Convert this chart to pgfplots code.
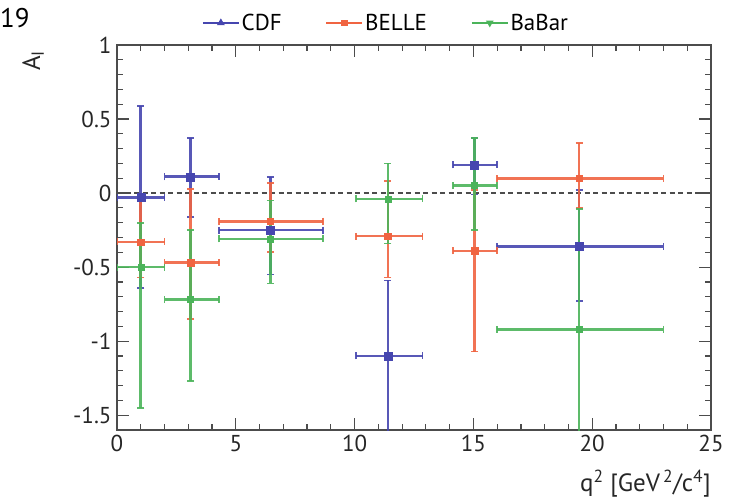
\documentclass[border=0pt]{standalone}
\usepackage{fontspec}
\setmainfont{PT Sans}
\usepackage{pgfplots}
\usepackage{pgfplotstable}
\pgfplotsset{compat=1.18}

\definecolor{cdf}{RGB}{70,70,175}
\definecolor{belle}{RGB}{240,100,65}
\definecolor{babar}{RGB}{75,180,90}

\pgfplotstableread{
x y xm xp ym yp
1.0 -0.03 1.0 1.0 0.61 0.62
3.1 0.11 1.1 1.2 0.27 0.26
6.45 -0.25 2.15 2.23 0.30 0.36
11.4 -1.10 1.35 1.46 0.80 0.51
15.05 0.19 0.9 0.95 0.20 0.18
19.45 -0.36 3.45 3.55 0.37 0.38
}\cdftab

\pgfplotstableread{
x y xm xp ym yp
1.0 -0.33 1.0 1.0 0.24 0.32
3.1 -0.47 1.1 1.2 0.38 0.50
6.45 -0.19 2.15 2.23 0.21 0.26
11.4 -0.29 1.35 1.46 0.28 0.37
15.05 -0.39 0.9 0.95 0.68 0.41
19.45 0.10 3.45 3.55 0.20 0.24
}\belletab

\pgfplotstableread{
x y xm xp ym yp
1.0 -0.50 1.0 1.0 0.95 0.30
3.1 -0.72 1.1 1.2 0.55 0.47
6.45 -0.31 2.15 2.23 0.30 0.26
11.4 -0.04 1.35 1.46 0.30 0.24
15.05 0.05 0.9 0.95 0.30 0.32
19.45 -0.92 3.45 3.55 0.90 0.81
}\babartab

\pgfplotsset{
  myerr/.style={error bars/.cd, x dir=both, x explicit, y dir=both, y explicit,
    error bar style={line width=2.6pt, opacity=0.9},
    error mark options={rotate=90, line width=1.8pt, mark size=3.5pt, opacity=0.9}},
}

\begin{document}
\begin{tikzpicture}
\useasboundingbox (-117pt,-73pt) rectangle (618pt,430pt);
\begin{axis}[
  name=ax,
  scale only axis, width=594pt, height=385pt,
  at={(0,0)}, anchor=south west,
  xmin=0, xmax=25, ymin=-1.6, ymax=1,
  xtick={0,5,...,25}, ytick={-1.5,-1,-0.5,0,0.5,1},
  minor x tick num=4, minor y tick num=4,
  tick align=inside, major tick length=12pt, minor tick length=6pt,
  axis line style={line width=1.4pt, black!70},
  every tick/.style={line width=1.2pt, black!70},
  tick label style={font=\fontsize{23}{26}\selectfont, text=black!85},
  xticklabel style={yshift=-2pt},
  yticklabel style={xshift=-2pt},
  /pgf/number format/assume math mode=true,
  legend style={at={(axis description cs:0.453,1)}, anchor=south, yshift=9pt,
    draw=none, fill=none, legend columns=3,
    font=\fontsize{23}{26}\selectfont,
    /tikz/every even column/.append style={column sep=42pt}},
  legend image code/.code={\draw[mark repeat=2,mark phase=2] plot coordinates {(0pt,0pt)(18pt,0pt)(36pt,0pt)};},
]
\addlegendimage{cdf, line width=1.5pt, mark=triangle*, mark size=3pt}
\addlegendentry{CDF}
\addlegendimage{belle, line width=1.5pt, mark=square*, mark size=2.5pt}
\addlegendentry{BELLE}
\addlegendimage{babar, line width=1.5pt, mark=triangle*, mark options={rotate=180}, mark size=3pt}
\addlegendentry{BaBar}

\addplot[forget plot, black!70, line width=1.6pt, dash pattern=on 5pt off 3.5pt] coordinates {(0,0) (25,0)};

\addplot[forget plot, only marks, color=cdf, mark=square*, mark size=4pt, myerr]
  table[x=x, y=y, x error minus=xm, x error plus=xp, y error minus=ym, y error plus=yp] {\cdftab};
\addplot[forget plot, only marks, color=belle, mark=square*, mark size=3.2pt, myerr]
  table[x=x, y=y, x error minus=xm, x error plus=xp, y error minus=ym, y error plus=yp] {\belletab};
\addplot[forget plot, only marks, color=babar, mark=square*, mark size=3pt, myerr]
  table[x=x, y=y, x error minus=xm, x error plus=xp, y error minus=ym, y error plus=yp] {\babartab};
\end{axis}
\node[rotate=90, anchor=east, font=\fontsize{25}{28}\selectfont, text=black!85] at ([xshift=-84pt, yshift=-2pt]ax.north west) {A\textsubscript{I}};
\node[anchor=north east, font=\fontsize{25}{28}\selectfont, text=black!85, inner sep=0pt] at ([yshift=-40pt]ax.south east) {q\textsuperscript{2} [GeV\textsuperscript{\,2}/c\textsuperscript{4}]};
\node[anchor=west, font=\fontsize{27}{30}\selectfont, inner sep=0pt] at ([xshift=-117pt, yshift=27pt]ax.north west) {19};
\end{tikzpicture}
\end{document}
